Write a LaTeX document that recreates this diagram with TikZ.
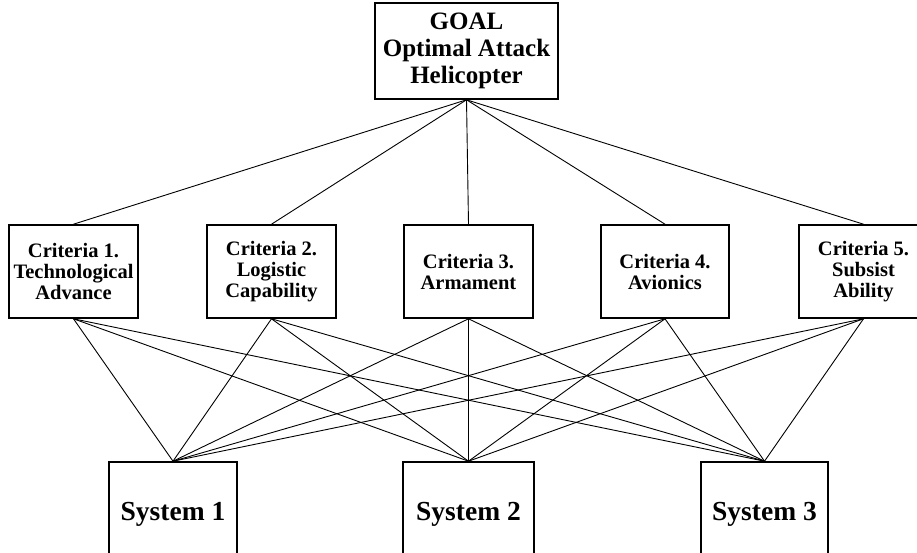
\documentclass[tikz,border=0pt]{standalone}
\usepackage{fontspec}
\setmainfont{Liberation Serif}
\begin{document}
\begin{tikzpicture}[x=1pt,y=-1pt,
  box/.style={draw, line width=1.6pt, inner sep=0pt, align=center,
    font=\bfseries\fontsize{20.5}{21}\selectfont,
    minimum width=129pt, minimum height=93pt},
  goalbox/.style={box, minimum width=183pt, minimum height=96pt,
    font=\bfseries\fontsize{25}{27}\selectfont},
  sysbox/.style={box, minimum height=106pt,
    font=\bfseries\fontsize{27.5}{30}\selectfont},
  link/.style={line width=0.9pt}]
\useasboundingbox (0,0) rectangle (917,553);
\node[goalbox] (goal) at (466.5,51) {GOAL\\Optimal Attack\\Helicopter};
\node[box] (c1) at (73.5,271.5) {Criteria 1.\\Technological\\Advance};
\node[box] (c2) at (271.5,271.5) {Criteria 2.\\Logistic\\Capability};
\node[box] (c3) at (468.5,271.5) {Criteria 3.\\Armament};
\node[box, minimum width=128pt] (c4) at (665,271.5) {Criteria 4.\\Avionics};
\node[box] (c5) at (863.5,271.5) {Criteria 5.\\Subsist\\Ability};
\node[sysbox, minimum width=128pt] (s1) at (173,515) {\raisebox{8pt}{System 1}};
\node[sysbox, minimum width=131pt] (s2) at (468.5,515) {\raisebox{8pt}{System 2}};
\node[sysbox, minimum width=127pt] (s3) at (764.5,515) {\raisebox{8pt}{System 3}};
\foreach \c in {c1,c2,c3,c4,c5} {
  \draw[link] (goal.south) -- (\c.north);
  \foreach \s in {s1,s2,s3} {
    \draw[link] (\c.south) -- (\s.north);
  }
}
\end{tikzpicture}
\end{document}
